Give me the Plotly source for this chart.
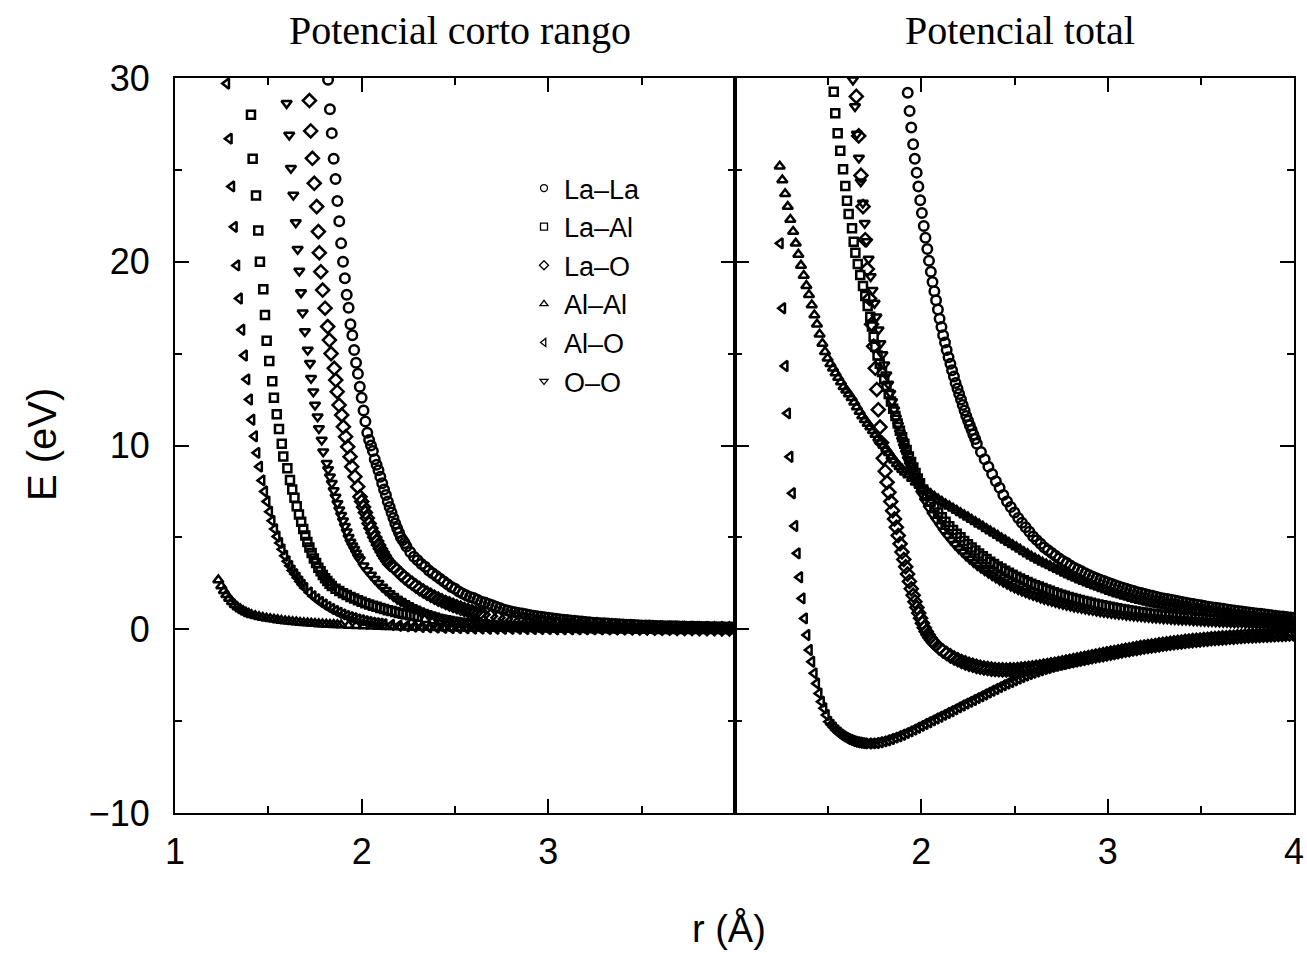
import plotly.graph_objects as go

# ---------------- Potencial corto rango (left panel): (r [Å], E [eV]) ----------------
LALA_SR = [(1.82,29.9),(1.83,28.3),(1.84,27.0),(1.85,25.6),(1.86,24.5),(1.87,23.3),(1.88,22.2),(1.89,21.0),(1.90,20.0),(1.91,19.1),(1.92,18.2),(1.93,17.5),(1.94,16.6),(1.95,16.0),(1.96,15.2),(1.97,14.5),(1.98,13.9),(1.99,13.2),(2.00,12.6),(2.01,11.9),(2.02,11.3),(2.03,10.7),(2.04,10.3),(2.05,10.0),(2.06,9.7),(2.07,9.25),(2.08,8.95),(2.09,8.65),(2.10,8.3),(2.11,7.95),(2.12,7.6),(2.13,7.3),(2.14,6.95),(2.15,6.65),(2.16,6.35),(2.17,6.05),(2.18,5.75),(2.19,5.5),(2.20,5.25),(2.21,5.0),(2.22,4.85),(2.23,4.7),(2.24,4.5),(2.26,4.2),(2.28,3.95),(2.30,3.75),(2.32,3.55),(2.34,3.4),(2.36,3.2),(2.38,3.05),(2.40,2.9),(2.42,2.75),(2.44,2.6),(2.46,2.45),(2.48,2.3),(2.50,2.2),(2.52,2.05),(2.54,1.95),(2.56,1.85),(2.58,1.75),(2.60,1.7),(2.62,1.6),(2.64,1.5),(2.66,1.45),(2.68,1.38),(2.70,1.3),(2.72,1.22),(2.74,1.15),(2.76,1.08),(2.78,1.02),(2.80,0.97),(2.82,0.93),(2.84,0.89),(2.86,0.86),(2.88,0.82),(2.90,0.78),(2.92,0.74),(2.94,0.71),(2.96,0.68),(2.98,0.65),(3.00,0.62),(3.02,0.6),(3.04,0.57),(3.06,0.55),(3.08,0.52),(3.10,0.5),(3.12,0.48),(3.14,0.46),(3.16,0.44),(3.18,0.42),(3.20,0.4),(3.22,0.38),(3.24,0.36),(3.26,0.35),(3.28,0.33),(3.30,0.32),(3.32,0.31),(3.34,0.3),(3.36,0.28),(3.38,0.27),(3.40,0.26),(3.42,0.25),(3.44,0.24),(3.46,0.23),(3.48,0.22),(3.50,0.21),(3.52,0.2),(3.54,0.2),(3.56,0.19),(3.58,0.18),(3.60,0.18),(3.62,0.17),(3.64,0.17),(3.66,0.16),(3.68,0.16),(3.70,0.15),(3.72,0.15),(3.74,0.14),(3.76,0.14),(3.78,0.13),(3.80,0.13),(3.82,0.12),(3.84,0.12),(3.86,0.12),(3.88,0.11),(3.90,0.11),(3.92,0.11),(3.94,0.11),(3.96,0.1),(3.98,0.1),(4.00,0.1)]

LAAL_SR = [(1.407,28.0),(1.416,25.6),(1.434,23.6),(1.446,21.7),(1.455,20.0),(1.473,18.5),(1.482,17.1),(1.491,15.7),(1.505,14.6),(1.521,13.5),(1.530,12.6),(1.545,11.7),(1.557,10.9),(1.572,10.1),(1.580,9.4),(1.602,8.76),(1.616,8.12),(1.628,7.6),(1.640,7.15),(1.652,6.7),(1.664,6.25),(1.676,5.85),(1.687,5.45),(1.698,5.1),(1.709,4.75),(1.720,4.45),(1.732,4.15),(1.744,3.85),(1.756,3.6),(1.768,3.35),(1.780,3.15),(1.792,2.95),(1.804,2.78),(1.816,2.62),(1.828,2.48),(1.840,2.35),(1.86,2.2),(1.88,2.08),(1.90,1.96),(1.92,1.86),(1.94,1.76),(1.96,1.67),(1.98,1.58),(2.00,1.5),(2.02,1.42),(2.04,1.35),(2.06,1.28),(2.08,1.22),(2.10,1.16),(2.12,1.1),(2.14,1.04),(2.16,0.99),(2.18,0.94),(2.20,0.89),(2.22,0.84),(2.24,0.8),(2.26,0.76),(2.28,0.72),(2.30,0.68),(2.34,0.61),(2.38,0.55),(2.42,0.5),(2.46,0.45),(2.50,0.4),(2.54,0.36),(2.58,0.32),(2.62,0.29),(2.66,0.26),(2.70,0.23),(2.74,0.21),(2.78,0.19),(2.82,0.17),(2.86,0.15),(2.90,0.14),(2.94,0.12),(2.98,0.11),(3.02,0.1),(3.06,0.09),(3.10,0.08),(3.14,0.07),(3.18,0.07),(3.22,0.06),(3.26,0.05),(3.30,0.05),(3.34,0.04),(3.38,0.04),(3.42,0.04),(3.46,0.03),(3.50,0.03),(3.54,0.03),(3.58,0.02),(3.62,0.02),(3.66,0.02),(3.70,0.02),(3.74,0.01),(3.78,0.01),(3.82,0.01),(3.86,0.01),(3.90,0.01),(3.94,0.01),(3.98,0.0)]

LAO_SR = [(1.720,28.77),(1.727,27.12),(1.736,25.63),(1.746,24.27),(1.759,23.0),(1.768,21.64),(1.773,20.49),(1.781,19.46),(1.791,18.46),(1.804,17.47),(1.818,16.47),(1.827,15.74),(1.836,15.0),(1.853,14.2),(1.861,13.56),(1.869,12.93),(1.879,12.2),(1.893,11.66),(1.902,11.02),(1.914,10.48),(1.925,9.93),(1.938,9.39),(1.947,8.85),(1.964,8.3),(1.979,7.76),(1.991,7.21),(2.00,6.95),(2.01,6.65),(2.02,6.35),(2.03,6.05),(2.04,5.75),(2.05,5.5),(2.06,5.25),(2.07,5.0),(2.08,4.8),(2.09,4.58),(2.10,4.38),(2.11,4.2),(2.12,4.02),(2.13,3.85),(2.14,3.7),(2.15,3.55),(2.17,3.4),(2.19,3.2),(2.21,3.0),(2.23,2.82),(2.25,2.65),(2.27,2.5),(2.29,2.35),(2.31,2.21),(2.33,2.08),(2.35,1.96),(2.37,1.85),(2.39,1.74),(2.41,1.64),(2.43,1.55),(2.45,1.46),(2.47,1.38),(2.49,1.3),(2.51,1.22),(2.53,1.15),(2.55,1.08),(2.57,1.02),(2.59,0.96),(2.61,0.9),(2.63,0.85),(2.65,0.8),(2.69,0.71),(2.73,0.63),(2.77,0.56),(2.81,0.5),(2.85,0.44),(2.89,0.39),(2.93,0.35),(2.97,0.31),(3.01,0.28),(3.05,0.25),(3.09,0.22),(3.13,0.2),(3.17,0.18),(3.21,0.16),(3.25,0.14),(3.29,0.13),(3.33,0.11),(3.37,0.1),(3.41,0.09),(3.45,0.08),(3.49,0.07),(3.53,0.07),(3.57,0.06),(3.61,0.05),(3.65,0.05),(3.69,0.04),(3.73,0.04),(3.77,0.04),(3.81,0.03),(3.85,0.03),(3.89,0.03),(3.93,0.02),(3.97,0.02)]

ALAL_SR = [(1.232,2.68),(1.248,2.35),(1.262,2.1),(1.275,1.88),(1.290,1.68),(1.305,1.5),(1.320,1.34),(1.335,1.21),(1.350,1.1),(1.365,1.0),(1.380,0.92),(1.395,0.85),(1.410,0.79),(1.43,0.73),(1.45,0.68),(1.47,0.64),(1.49,0.6),(1.51,0.57),(1.53,0.54),(1.55,0.51),(1.57,0.48),(1.59,0.45),(1.61,0.43),(1.63,0.41),(1.65,0.39),(1.67,0.37),(1.69,0.35),(1.71,0.34),(1.73,0.32),(1.75,0.31),(1.77,0.29),(1.79,0.28),(1.81,0.27),(1.83,0.26),(1.85,0.25),(1.87,0.24),(1.89,0.23),(1.93,0.21),(1.97,0.19),(2.01,0.18),(2.05,0.16),(2.09,0.15),(2.13,0.14),(2.17,0.13),(2.21,0.12),(2.25,0.11),(2.29,0.1),(2.33,0.09),(2.37,0.09),(2.41,0.08),(2.45,0.07),(2.49,0.07),(2.53,0.06),(2.57,0.06),(2.61,0.05),(2.65,0.05),(2.69,0.04),(2.73,0.04),(2.77,0.04),(2.81,0.03),(2.85,0.03),(2.89,0.03),(2.93,0.03),(2.97,0.02),(3.01,0.02),(3.05,0.02),(3.09,0.02),(3.13,0.02),(3.17,0.01),(3.21,0.01),(3.25,0.01),(3.29,0.01),(3.33,0.01),(3.37,0.01),(3.41,0.01),(3.45,0.01),(3.49,0.0),(3.53,0.0),(3.57,0.0),(3.61,0.0),(3.65,0.0),(3.69,0.0),(3.73,0.0),(3.77,0.0),(3.81,0.0),(3.85,0.0),(3.89,0.0),(3.93,0.0),(3.97,0.0)]

ALO_SR = [(1.277,29.7),(1.291,26.7),(1.304,24.1),(1.318,21.9),(1.331,19.8),(1.345,18.0),(1.358,16.3),(1.372,14.9),(1.385,13.6),(1.399,12.5),(1.412,11.4),(1.426,10.5),(1.439,9.6),(1.453,8.85),(1.466,8.1),(1.480,7.5),(1.493,6.95),(1.507,6.4),(1.520,5.9),(1.534,5.45),(1.547,5.05),(1.561,4.7),(1.574,4.35),(1.588,4.0),(1.601,3.7),(1.615,3.45),(1.628,3.2),(1.642,3.0),(1.655,2.8),(1.669,2.6),(1.682,2.42),(1.696,2.25),(1.72,2.0),(1.74,1.8),(1.76,1.63),(1.78,1.48),(1.80,1.35),(1.82,1.22),(1.84,1.1),(1.86,1.0),(1.88,0.9),(1.90,0.81),(1.92,0.73),(1.94,0.66),(1.96,0.6),(1.98,0.54),(2.00,0.49),(2.02,0.44),(2.04,0.4),(2.06,0.36),(2.08,0.33),(2.10,0.3),(2.12,0.27),(2.16,0.23),(2.20,0.19),(2.24,0.16),(2.28,0.14),(2.32,0.12),(2.36,0.1),(2.40,0.09),(2.44,0.08),(2.48,0.07),(2.52,0.06),(2.56,0.05),(2.60,0.04),(2.64,0.04),(2.68,0.03),(2.72,0.03),(2.76,0.02),(2.80,0.02),(2.84,0.02),(2.88,0.01),(2.92,0.01),(2.96,0.01),(3.00,0.01),(3.04,0.0),(3.08,0.0),(3.12,0.0),(3.16,0.0),(3.20,0.0),(3.24,0.0),(3.28,0.0),(3.32,0.0),(3.36,0.0),(3.40,0.0),(3.44,0.0),(3.48,0.0),(3.52,0.0),(3.56,0.0),(3.60,0.0),(3.64,0.0),(3.68,0.0),(3.72,0.0),(3.76,0.0),(3.80,0.0),(3.84,0.0),(3.88,0.0),(3.92,0.0),(3.96,0.0),(4.00,0.0)]

OO_SR = [(1.598,28.62),(1.612,26.9),(1.621,25.09),(1.634,23.63),(1.647,22.13),(1.657,20.68),(1.666,19.5),(1.675,18.32),(1.684,17.23),(1.696,16.2),(1.711,15.2),(1.723,14.47),(1.729,13.66),(1.741,12.93),(1.750,12.2),(1.764,11.57),(1.771,10.93),(1.786,10.3),(1.794,9.66),(1.813,9.03),(1.82,8.7),(1.83,8.3),(1.84,7.95),(1.85,7.55),(1.86,7.2),(1.87,6.85),(1.88,6.5),(1.89,6.2),(1.90,5.9),(1.91,5.6),(1.92,5.3),(1.93,5.0),(1.94,4.75),(1.95,4.55),(1.96,4.35),(1.97,4.15),(1.98,3.95),(1.99,3.8),(2.01,3.45),(2.03,3.2),(2.05,2.95),(2.07,2.72),(2.09,2.5),(2.11,2.3),(2.13,2.12),(2.15,1.95),(2.17,1.8),(2.19,1.65),(2.21,1.52),(2.23,1.4),(2.25,1.29),(2.27,1.19),(2.29,1.1),(2.31,1.01),(2.33,0.93),(2.35,0.86),(2.37,0.79),(2.39,0.73),(2.41,0.67),(2.43,0.62),(2.45,0.58),(2.47,0.54),(2.49,0.5),(2.51,0.46),(2.53,0.43),(2.55,0.4),(2.57,0.37),(2.59,0.34),(2.61,0.32),(2.63,0.3),(2.65,0.28),(2.67,0.26),(2.69,0.24),(2.73,0.21),(2.77,0.18),(2.81,0.16),(2.85,0.14),(2.89,0.12),(2.93,0.1),(2.97,0.09),(3.01,0.08),(3.05,0.07),(3.09,0.06),(3.13,0.05),(3.17,0.05),(3.21,0.04),(3.25,0.04),(3.29,0.03),(3.33,0.03),(3.37,0.02),(3.41,0.02),(3.45,0.02),(3.49,0.02),(3.53,0.01),(3.57,0.01),(3.61,0.01),(3.65,0.01),(3.69,0.01),(3.73,0.0),(3.77,0.0),(3.81,0.0),(3.85,0.0),(3.89,0.0),(3.93,0.0),(3.97,0.0)]

# ---------------- Potencial total (right panel): (r [Å], E [eV]) ----------------
LALA_T = [(1.927,29.2),(1.937,28.2),(1.946,27.3),(1.956,26.4),(1.965,25.6),(1.975,24.85),(1.984,24.1),(1.994,23.35),(2.003,22.65),(2.013,21.95),(2.022,21.3),(2.032,20.7),(2.041,20.05),(2.051,19.45),(2.060,18.9),(2.070,18.4),(2.079,17.9),(2.089,17.4),(2.098,16.9),(2.108,16.45),(2.117,16.0),(2.127,15.6),(2.136,15.2),(2.146,14.8),(2.156,14.45),(2.165,14.1),(2.175,13.75),(2.184,13.4),(2.194,13.1),(2.203,12.8),(2.213,12.5),(2.222,12.2),(2.232,11.9),(2.241,11.6),(2.251,11.35),(2.260,11.1),(2.270,10.85),(2.279,10.6),(2.289,10.35),(2.298,10.1),(2.32,9.65),(2.34,9.25),(2.36,8.85),(2.38,8.45),(2.40,8.05),(2.42,7.7),(2.44,7.3),(2.46,6.95),(2.48,6.65),(2.50,6.35),(2.52,6.05),(2.54,5.8),(2.56,5.55),(2.58,5.3),(2.60,5.05),(2.62,4.85),(2.64,4.65),(2.66,4.45),(2.68,4.3),(2.70,4.15),(2.72,4.0),(2.74,3.85),(2.76,3.72),(2.78,3.6),(2.80,3.47),(2.82,3.35),(2.84,3.25),(2.86,3.15),(2.88,3.05),(2.90,2.95),(2.92,2.86),(2.94,2.78),(2.96,2.7),(2.98,2.62),(3.00,2.54),(3.02,2.47),(3.04,2.4),(3.06,2.33),(3.08,2.26),(3.10,2.2),(3.12,2.14),(3.14,2.08),(3.16,2.02),(3.18,1.97),(3.20,1.92),(3.22,1.87),(3.24,1.82),(3.26,1.77),(3.28,1.72),(3.30,1.68),(3.32,1.64),(3.34,1.6),(3.36,1.56),(3.38,1.52),(3.40,1.48),(3.42,1.44),(3.44,1.4),(3.46,1.37),(3.48,1.33),(3.50,1.3),(3.52,1.26),(3.54,1.23),(3.56,1.2),(3.58,1.17),(3.60,1.14),(3.62,1.11),(3.64,1.08),(3.66,1.05),(3.68,1.02),(3.70,0.99),(3.72,0.96),(3.74,0.94),(3.76,0.91),(3.78,0.89),(3.80,0.86),(3.82,0.84),(3.84,0.81),(3.86,0.79),(3.88,0.76),(3.90,0.74),(3.92,0.71),(3.94,0.69),(3.96,0.66),(3.98,0.64),(4.00,0.62)]

LAAL_T = [(1.530,29.25),(1.538,28.08),(1.551,26.99),(1.565,26.04),(1.580,25.03),(1.592,24.12),(1.601,23.32),(1.610,22.6),(1.628,21.82),(1.637,21.09),(1.646,20.49),(1.659,19.88),(1.672,19.28),(1.687,18.68),(1.699,18.14),(1.712,17.59),(1.726,17.01),(1.735,16.47),(1.744,15.92),(1.753,15.38),(1.765,14.9),(1.777,14.45),(1.789,14.0),(1.801,13.6),(1.813,13.2),(1.825,12.8),(1.837,12.4),(1.849,12.0),(1.861,11.6),(1.873,11.2),(1.885,10.8),(1.897,10.45),(1.909,10.1),(1.921,9.75),(1.933,9.4),(1.945,9.1),(1.957,8.8),(1.969,8.5),(1.981,8.2),(1.993,7.95),(2.01,7.6),(2.03,7.25),(2.05,6.95),(2.07,6.65),(2.09,6.35),(2.11,6.1),(2.13,5.85),(2.15,5.6),(2.17,5.4),(2.19,5.2),(2.21,5.0),(2.23,4.8),(2.25,4.62),(2.27,4.45),(2.29,4.28),(2.31,4.12),(2.33,3.97),(2.35,3.82),(2.37,3.68),(2.39,3.55),(2.41,3.42),(2.43,3.3),(2.45,3.18),(2.47,3.07),(2.49,2.96),(2.51,2.86),(2.53,2.76),(2.55,2.66),(2.57,2.57),(2.59,2.48),(2.61,2.4),(2.63,2.32),(2.65,2.24),(2.67,2.16),(2.69,2.09),(2.71,2.02),(2.73,1.95),(2.75,1.88),(2.77,1.82),(2.79,1.76),(2.81,1.7),(2.83,1.64),(2.85,1.59),(2.87,1.54),(2.89,1.49),(2.91,1.44),(2.93,1.39),(2.95,1.35),(2.97,1.3),(2.99,1.26),(3.01,1.22),(3.03,1.18),(3.05,1.14),(3.07,1.1),(3.09,1.07),(3.11,1.03),(3.13,1.0),(3.15,0.97),(3.17,0.94),(3.19,0.91),(3.21,0.88),(3.23,0.85),(3.25,0.83),(3.27,0.8),(3.29,0.78),(3.31,0.75),(3.33,0.73),(3.35,0.71),(3.37,0.69),(3.39,0.67),(3.41,0.65),(3.43,0.63),(3.45,0.61),(3.47,0.59),(3.49,0.58),(3.51,0.56),(3.53,0.55),(3.55,0.53),(3.57,0.52),(3.59,0.5),(3.61,0.49),(3.63,0.47),(3.65,0.46),(3.67,0.45),(3.69,0.44),(3.71,0.43),(3.73,0.42),(3.75,0.41),(3.77,0.4),(3.79,0.39),(3.81,0.38),(3.83,0.37),(3.85,0.36),(3.87,0.35),(3.89,0.34),(3.91,0.33),(3.93,0.32),(3.95,0.31),(3.97,0.3),(3.99,0.29)]

LAO_T = [(1.651,29.0),(1.664,26.85),(1.676,24.7),(1.687,23.0),(1.699,21.2),(1.710,19.6),(1.722,18.0),(1.733,16.6),(1.744,15.4),(1.753,14.2),(1.761,13.05),(1.769,11.95),(1.778,11.0),(1.787,10.15),(1.796,9.3),(1.806,8.6),(1.816,8.0),(1.826,7.45),(1.836,6.95),(1.846,6.45),(1.856,6.0),(1.866,5.55),(1.876,5.1),(1.886,4.65),(1.896,4.2),(1.906,3.8),(1.916,3.4),(1.926,3.0),(1.936,2.6),(1.946,2.2),(1.956,1.85),(1.966,1.5),(1.976,1.18),(1.986,0.88),(1.996,0.6),(2.006,0.33),(2.016,0.08),(2.026,-0.12),(2.036,-0.3),(2.046,-0.46),(2.056,-0.6),(2.066,-0.72),(2.076,-0.83),(2.096,-1.02),(2.116,-1.18),(2.136,-1.32),(2.156,-1.45),(2.176,-1.56),(2.196,-1.66),(2.216,-1.75),(2.236,-1.83),(2.256,-1.9),(2.276,-1.96),(2.296,-2.02),(2.316,-2.07),(2.336,-2.11),(2.356,-2.14),(2.376,-2.17),(2.396,-2.19),(2.416,-2.2),(2.436,-2.21),(2.456,-2.215),(2.476,-2.21),(2.496,-2.2),(2.516,-2.19),(2.536,-2.17),(2.556,-2.15),(2.576,-2.13),(2.596,-2.1),(2.616,-2.07),(2.636,-2.04),(2.656,-2.0),(2.676,-1.97),(2.696,-1.93),(2.716,-1.9),(2.736,-1.86),(2.756,-1.82),(2.776,-1.78),(2.796,-1.74),(2.816,-1.7),(2.836,-1.66),(2.856,-1.62),(2.876,-1.58),(2.896,-1.54),(2.916,-1.5),(2.936,-1.46),(2.956,-1.42),(2.976,-1.38),(2.996,-1.34),(3.016,-1.3),(3.036,-1.26),(3.056,-1.22),(3.076,-1.18),(3.096,-1.14),(3.116,-1.11),(3.136,-1.07),(3.156,-1.04),(3.176,-1.0),(3.196,-0.97),(3.216,-0.94),(3.236,-0.91),(3.256,-0.88),(3.276,-0.85),(3.296,-0.82),(3.316,-0.79),(3.336,-0.76),(3.356,-0.74),(3.376,-0.71),(3.396,-0.69),(3.416,-0.66),(3.436,-0.64),(3.456,-0.62),(3.476,-0.6),(3.496,-0.58),(3.516,-0.56),(3.536,-0.54),(3.556,-0.52),(3.576,-0.5),(3.596,-0.49),(3.616,-0.47),(3.636,-0.46),(3.656,-0.44),(3.676,-0.43),(3.696,-0.41),(3.716,-0.4),(3.736,-0.38),(3.756,-0.37),(3.776,-0.36),(3.796,-0.35),(3.816,-0.34),(3.836,-0.33),(3.856,-0.32),(3.876,-0.31),(3.896,-0.3),(3.916,-0.29),(3.936,-0.28),(3.956,-0.27),(3.976,-0.26),(3.996,-0.25)]

ALAL_T = [(1.240,25.2),(1.254,24.45),(1.269,23.7),(1.283,23.0),(1.297,22.3),(1.312,21.65),(1.326,21.0),(1.340,20.4),(1.354,19.8),(1.369,19.25),(1.383,18.7),(1.397,18.2),(1.412,17.65),(1.426,17.1),(1.440,16.6),(1.454,16.05),(1.469,15.55),(1.483,15.1),(1.497,14.75),(1.512,14.45),(1.526,14.2),(1.540,13.95),(1.554,13.7),(1.569,13.45),(1.583,13.2),(1.597,13.0),(1.611,12.8),(1.626,12.6),(1.640,12.35),(1.654,12.1),(1.669,11.85),(1.683,11.6),(1.697,11.4),(1.712,11.2),(1.726,11.0),(1.740,10.8),(1.754,10.6),(1.769,10.4),(1.783,10.2),(1.797,10.0),(1.812,9.8),(1.826,9.6),(1.840,9.4),(1.854,9.2),(1.869,9.0),(1.883,8.85),(1.897,8.7),(1.912,8.55),(1.93,8.4),(1.95,8.2),(1.97,8.0),(1.99,7.82),(2.01,7.67),(2.03,7.52),(2.05,7.37),(2.07,7.22),(2.09,7.08),(2.11,6.95),(2.13,6.82),(2.15,6.7),(2.17,6.58),(2.19,6.46),(2.21,6.34),(2.23,6.22),(2.25,6.1),(2.27,5.97),(2.29,5.85),(2.31,5.72),(2.33,5.6),(2.35,5.47),(2.37,5.35),(2.39,5.22),(2.41,5.1),(2.43,4.97),(2.45,4.85),(2.47,4.72),(2.49,4.6),(2.51,4.47),(2.53,4.35),(2.55,4.22),(2.57,4.1),(2.59,3.97),(2.61,3.86),(2.63,3.75),(2.65,3.65),(2.67,3.55),(2.69,3.45),(2.71,3.35),(2.73,3.25),(2.75,3.15),(2.77,3.05),(2.79,2.95),(2.81,2.86),(2.83,2.77),(2.85,2.68),(2.87,2.6),(2.89,2.52),(2.91,2.44),(2.93,2.36),(2.95,2.28),(2.97,2.2),(2.99,2.13),(3.01,2.06),(3.03,1.99),(3.05,1.92),(3.07,1.86),(3.09,1.8),(3.11,1.74),(3.13,1.68),(3.15,1.62),(3.17,1.57),(3.19,1.52),(3.21,1.47),(3.23,1.42),(3.25,1.38),(3.27,1.34),(3.29,1.3),(3.31,1.26),(3.33,1.22),(3.35,1.18),(3.37,1.14),(3.39,1.11),(3.41,1.08),(3.43,1.05),(3.45,1.02),(3.47,0.99),(3.49,0.96),(3.51,0.93),(3.53,0.91),(3.55,0.88),(3.57,0.86),(3.59,0.83),(3.61,0.81),(3.63,0.79),(3.65,0.77),(3.67,0.75),(3.69,0.73),(3.71,0.71),(3.73,0.69),(3.75,0.67),(3.77,0.65),(3.79,0.63),(3.81,0.61),(3.83,0.6),(3.85,0.58),(3.87,0.56),(3.89,0.55),(3.91,0.53),(3.93,0.52),(3.95,0.5),(3.97,0.49),(3.99,0.47)]

ALO_T = [(1.243,21.0),(1.256,17.47),(1.269,14.33),(1.282,11.75),(1.295,9.39),(1.308,7.4),(1.321,5.62),(1.334,4.13),(1.347,2.83),(1.360,1.68),(1.373,0.59),(1.386,-0.31),(1.399,-1.13),(1.412,-1.77),(1.425,-2.4),(1.438,-2.95),(1.451,-3.49),(1.464,-3.94),(1.477,-4.3),(1.490,-4.67),(1.503,-5.03),(1.516,-5.2),(1.529,-5.35),(1.542,-5.5),(1.555,-5.62),(1.568,-5.73),(1.581,-5.82),(1.594,-5.9),(1.607,-5.97),(1.620,-6.03),(1.633,-6.08),(1.646,-6.12),(1.659,-6.15),(1.672,-6.18),(1.685,-6.2),(1.698,-6.21),(1.72,-6.22),(1.74,-6.21),(1.76,-6.19),(1.78,-6.15),(1.80,-6.1),(1.82,-6.04),(1.84,-5.97),(1.86,-5.9),(1.88,-5.82),(1.90,-5.74),(1.92,-5.65),(1.94,-5.56),(1.96,-5.46),(1.98,-5.36),(2.00,-5.26),(2.02,-5.16),(2.04,-5.06),(2.06,-4.96),(2.08,-4.86),(2.10,-4.76),(2.12,-4.66),(2.14,-4.56),(2.16,-4.46),(2.18,-4.36),(2.20,-4.25),(2.22,-4.15),(2.24,-4.05),(2.26,-3.95),(2.28,-3.85),(2.30,-3.75),(2.32,-3.65),(2.34,-3.55),(2.36,-3.45),(2.38,-3.35),(2.40,-3.25),(2.42,-3.15),(2.44,-3.05),(2.46,-2.96),(2.48,-2.87),(2.50,-2.78),(2.52,-2.69),(2.54,-2.6),(2.56,-2.52),(2.58,-2.44),(2.60,-2.37),(2.62,-2.3),(2.64,-2.23),(2.66,-2.17),(2.68,-2.11),(2.70,-2.05),(2.72,-1.99),(2.74,-1.94),(2.76,-1.89),(2.78,-1.84),(2.80,-1.79),(2.82,-1.74),(2.84,-1.69),(2.86,-1.64),(2.88,-1.59),(2.90,-1.55),(2.92,-1.5),(2.94,-1.46),(2.96,-1.42),(2.98,-1.38),(3.00,-1.34),(3.02,-1.3),(3.04,-1.26),(3.06,-1.22),(3.08,-1.18),(3.10,-1.14),(3.12,-1.1),(3.14,-1.07),(3.16,-1.03),(3.18,-1.0),(3.20,-0.97),(3.22,-0.94),(3.24,-0.91),(3.26,-0.88),(3.28,-0.85),(3.30,-0.82),(3.32,-0.8),(3.34,-0.77),(3.36,-0.75),(3.38,-0.72),(3.40,-0.7),(3.42,-0.67),(3.44,-0.65),(3.46,-0.63),(3.48,-0.61),(3.50,-0.59),(3.54,-0.55),(3.58,-0.51),(3.62,-0.48),(3.66,-0.45),(3.70,-0.42),(3.74,-0.39),(3.78,-0.37),(3.82,-0.34),(3.86,-0.32),(3.90,-0.3),(3.94,-0.28),(3.98,-0.26)]

OO_T = [(1.633,29.9),(1.644,28.45),(1.654,26.95),(1.665,25.65),(1.675,24.35),(1.686,23.2),(1.696,22.1),(1.707,21.1),(1.717,20.15),(1.728,19.2),(1.738,18.45),(1.749,17.75),(1.759,17.0),(1.770,16.3),(1.780,15.55),(1.791,14.95),(1.801,14.4),(1.812,13.85),(1.822,13.35),(1.833,12.85),(1.843,12.4),(1.854,11.95),(1.864,11.5),(1.875,11.1),(1.885,10.7),(1.896,10.3),(1.906,9.95),(1.917,9.6),(1.927,9.25),(1.938,8.95),(1.948,8.65),(1.959,8.35),(1.969,8.1),(1.980,7.85),(2.00,7.4),(2.02,7.0),(2.04,6.6),(2.06,6.25),(2.08,5.95),(2.10,5.65),(2.12,5.35),(2.14,5.1),(2.16,4.85),(2.18,4.62),(2.20,4.4),(2.22,4.2),(2.24,4.0),(2.26,3.82),(2.28,3.65),(2.30,3.49),(2.32,3.34),(2.34,3.2),(2.36,3.06),(2.38,2.93),(2.40,2.8),(2.42,2.68),(2.44,2.57),(2.46,2.46),(2.48,2.36),(2.50,2.26),(2.52,2.17),(2.54,2.08),(2.56,2.0),(2.58,1.92),(2.60,1.85),(2.62,1.78),(2.64,1.71),(2.66,1.64),(2.68,1.58),(2.70,1.52),(2.72,1.47),(2.74,1.41),(2.76,1.36),(2.78,1.31),(2.80,1.27),(2.82,1.22),(2.84,1.18),(2.86,1.14),(2.88,1.1),(2.90,1.06),(2.92,1.03),(2.94,0.99),(2.96,0.96),(2.98,0.93),(3.00,0.9),(3.02,0.87),(3.04,0.85),(3.06,0.82),(3.08,0.8),(3.10,0.77),(3.12,0.75),(3.14,0.73),(3.16,0.71),(3.18,0.69),(3.20,0.67),(3.22,0.65),(3.24,0.63),(3.26,0.61),(3.28,0.6),(3.30,0.58),(3.32,0.57),(3.34,0.55),(3.36,0.54),(3.38,0.52),(3.40,0.51),(3.42,0.5),(3.44,0.49),(3.46,0.47),(3.48,0.46),(3.50,0.45),(3.52,0.44),(3.54,0.43),(3.56,0.42),(3.58,0.41),(3.60,0.4),(3.62,0.39),(3.64,0.38),(3.66,0.37),(3.68,0.36),(3.70,0.355),(3.72,0.35),(3.74,0.34),(3.76,0.33),(3.78,0.325),(3.80,0.32),(3.82,0.31),(3.84,0.3),(3.86,0.295),(3.88,0.29),(3.90,0.285),(3.92,0.28),(3.94,0.275),(3.96,0.27),(3.98,0.265),(4.00,0.26)]

# series names, symbols (legend order)
NAMES = ["La–La", "La–Al", "La–O", "Al–Al", "Al–O", "O–O"]
SYMBOLS = ["circle-open", "square-open", "diamond-open", "triangle-up-open", "triangle-left-open", "triangle-down-open"]
SIZES = [9.5, 8, 10, 9, 9, 9]
SR_DATA = [LALA_SR, LAAL_SR, LAO_SR, ALAL_SR, ALO_SR, OO_SR]
T_DATA = [LALA_T, LAAL_T, LAO_T, ALAL_T, ALO_T, OO_T]

X_TICKS = [1, 2, 3, 4]
X_TEXT_LEFT = ["1", "2", "3", ""]
X_TEXT_RIGHT = ["", "2", "3", "4"]
Y_TICKS = [-10, 0, 10, 20, 30]
Y_TEXT = ["−10", "0", "10", "20", "30"]

W, H = 1307, 953
FONT = "Liberation Sans, Arial, Helvetica, sans-serif"
SERIF = "Liberation Serif, Times New Roman, serif"

fig = go.Figure()

for data, sym, sz in zip(SR_DATA, SYMBOLS, SIZES):
    r, e = zip(*data)
    fig.add_trace(go.Scatter(x=list(r), y=list(e), mode="markers", xaxis="x", yaxis="y",
                             showlegend=False,
                             marker=dict(symbol=sym, size=sz, color="black", line=dict(color="black", width=2.5))))
for data, sym, sz in zip(T_DATA, SYMBOLS, SIZES):
    r, e = zip(*data)
    fig.add_trace(go.Scatter(x=list(r), y=list(e), mode="markers", xaxis="x2", yaxis="y2",
                             showlegend=False,
                             marker=dict(symbol=sym, size=sz, color="black", line=dict(color="black", width=2.5))))
# legend entries
for i, (name, sym) in enumerate(zip(NAMES, SYMBOLS)):
    fig.add_trace(go.Scatter(x=[None], y=[None], mode="markers", name=name, xaxis="x", yaxis="y",
                             legendgroup=str(i),
                             marker=dict(symbol=sym, size=7, color="black", line=dict(color="black", width=1.3))))

xl0, xl1, xr1 = 175 / W, 735 / W, 1294 / W
yb, yt = 1 - 813 / H, 1 - 78 / H

common_x = dict(range=[1, 4], tickvals=X_TICKS, ticks="inside", ticklen=14, tickwidth=1.5,
                tickcolor="black", showline=True, linecolor="black", linewidth=2, mirror="allticks",
                showgrid=False, zeroline=False, automargin=False,
                tickfont=dict(family=FONT, size=36, color="black"),
                minor=dict(tickvals=[1.5, 2.5, 3.5], ticks="inside", ticklen=7, tickwidth=1.5, tickcolor="black"),
                ticklabelstandoff=6)
common_y = dict(range=[-10, 30], tickvals=Y_TICKS, ticks="inside", ticklen=14, tickwidth=1.5,
                tickcolor="black", showline=True, linecolor="black", linewidth=2, mirror="allticks",
                showgrid=False, zeroline=False, automargin=False,
                tickfont=dict(family=FONT, size=36, color="black"),
                minor=dict(tickvals=[-5, 5, 15, 25], ticks="inside", ticklen=7, tickwidth=1.5, tickcolor="black"))

fig.update_layout(
    width=W, height=H, margin=dict(l=0, r=0, t=0, b=0, pad=0, autoexpand=False),
    paper_bgcolor="white", plot_bgcolor="white",
    xaxis=dict(domain=[xl0, xl1], ticktext=X_TEXT_LEFT, anchor="y", **common_x),
    xaxis2=dict(domain=[xl1, xr1], ticktext=X_TEXT_RIGHT, anchor="y2", **common_x),
    yaxis=dict(domain=[yb, yt], ticktext=Y_TEXT, anchor="x", ticklabelstandoff=16, **common_y),
    yaxis2=dict(domain=[yb, yt], anchor="x2", showticklabels=False, matches="y", **common_y),
    showlegend=True,
    legend=dict(x=524 / W, y=1 - 164 / H, xanchor="left", yanchor="top", bgcolor="rgba(0,0,0,0)",
                font=dict(family=FONT, size=27, color="black"), traceorder="grouped",
                tracegroupgap=0.5, itemwidth=30),
    annotations=[
        dict(text="Potencial corto rango", x=460 / W, y=1 - 30 / H, xref="paper", yref="paper",
             showarrow=False, font=dict(family=SERIF, size=40, color="black"), xanchor="center", yanchor="middle"),
        dict(text="Potencial total", x=1020 / W, y=1 - 30 / H, xref="paper", yref="paper",
             showarrow=False, font=dict(family=SERIF, size=40, color="black"), xanchor="center", yanchor="middle"),
        dict(text="r (Å)", x=729 / W, y=1 - 928 / H, xref="paper", yref="paper",
             showarrow=False, font=dict(family=FONT, size=38, color="black"), xanchor="center", yanchor="middle"),
        dict(text="E (eV)", x=42 / W, y=1 - 445 / H, xref="paper", yref="paper", textangle=-90,
             showarrow=False, font=dict(family=FONT, size=40, color="black"), xanchor="center", yanchor="middle"),
    ],
)

fig.write_html("out.html")
